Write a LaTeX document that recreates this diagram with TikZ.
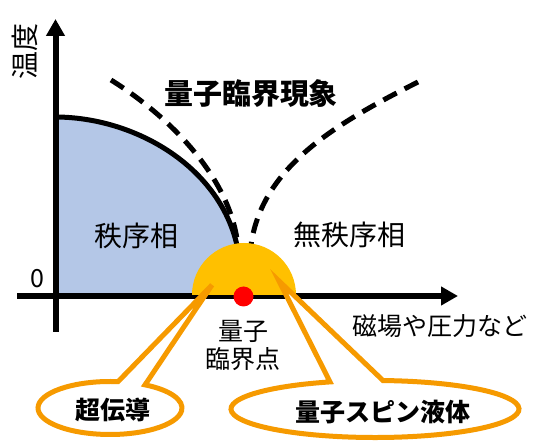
\documentclass[tikz,border=0pt]{standalone}
\usepackage{fontspec}
\newfontfamily\cjk{Noto Sans CJK JP}
\usetikzlibrary{arrows.meta}
\definecolor{phaseblue}{HTML}{B4C7E7}
\definecolor{qcyellow}{HTML}{FFC000}
\definecolor{callorange}{RGB}{246,154,0}
\begin{document}
\begin{tikzpicture}[x=1pt,y=1pt,
  axisline/.style={line width=6pt,-{Triangle[length=17pt,width=18pt]}},
  dashline/.style={line width=5pt,dash pattern=on 15pt off 9pt},
  callout/.style={draw=callorange,line width=5pt,fill=white},
  biglbl/.style={font=\cjk\fontsize{28}{30}\selectfont,inner sep=0pt},
  titlelbl/.style={font=\cjk\bfseries\fontsize{29}{31}\selectfont,inner sep=0pt},
  smalllbl/.style={font=\cjk\fontsize{25}{28}\selectfont,inner sep=0pt},
  boldlbl/.style={font=\cjk\bfseries\fontsize{25}{27}\selectfont,inner sep=0pt}
]
\path[use as bounding box] (0,0) rectangle (547,442);
% ordered phase
\fill[phaseblue] (56,146) -- (56,325) .. controls (135,325) and (222,275) .. (238,192) -- (244,146) -- cycle;
\draw[line width=5pt] (55,325) .. controls (135,325) and (222,275) .. (238,192);
% crossover lines
\draw[dashline] (111,362) .. controls (175,322) and (232,260) .. (238,195);
\draw[dashline] (418,360) .. controls (335,318) and (262,275) .. (251,197);
% axes
\coordinate (ybot) at (55.5,110);
\coordinate (ytop) at (55.5,423);
\coordinate (xleft) at (17,146);
\coordinate (xright) at (458,146);
\draw[axisline] (ybot) -- (ytop);
\draw[axisline] (xleft) -- (xright);
% quantum critical region and point
\fill[qcyellow] (192,147) arc[start angle=180,end angle=0,radius=52] -- cycle;
\fill[red] (243.5,145.5) circle[radius=10];
% callouts
\draw[callout] (110,34) ++(83.6:72 and 26.5) arc[start angle=83.6,end angle=420.9,x radius=72,y radius=26.5] -- (212,157) -- cycle;
\draw[callout] (375,33) ++(108.2:144 and 28.5) arc[start angle=108.2,end angle=446.8,x radius=144,y radius=28.5] -- (279,161) -- cycle;
% labels
\node[biglbl,rotate=90] (temp) at (25,390) {温度};
\node[smalllbl] (zero) at (37.5,163) {0};
\node[titlelbl] (qcp) at (251,348) {量子臨界現象};
\node[biglbl] (ord) at (136,206) {秩序相};
\node[biglbl] (dis) at (349,207) {無秩序相};
\node[smalllbl,align=center] (pt) at (243,97) {量子\\臨界点};
\node[smalllbl] (field) at (440,116) {磁場や圧力など};
\node[boldlbl] (sc) at (113,32) {超伝導};
\node[boldlbl] (qsl) at (383,30) {量子スピン液体};
\end{tikzpicture}
\end{document}
